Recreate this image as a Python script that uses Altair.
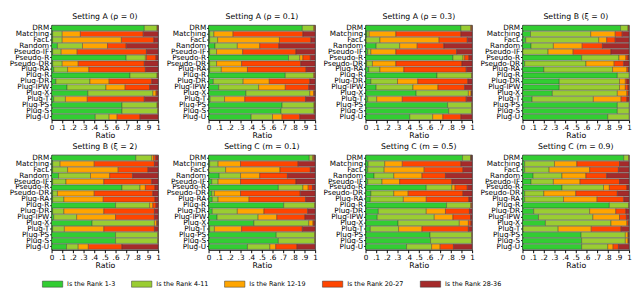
import altair as alt
import pandas as pd

methods = ["DRM", "Matching", "FacL", "Random", "Pseudo-IF", "Pseudo-R", "Pseudo-DR",
           "Plug-RA", "Plug-R", "Plug-DR", "Plug-IPW", "Plug-X", "Plug-T",
           "Plug-PS", "Plug-S", "Plug-U"]
ranks = ["Is the Rank 1-3", "Is the Rank 4-11", "Is the Rank 12-19",
         "Is the Rank 20-27", "Is the Rank 28-36"]
colors = ["#32cd32", "#9acd32", "#ffa500", "#ff4500", "#a52a2a"]
titles = ["Setting A (ρ = 0)", "Setting A (ρ = 0.1)", "Setting A (ρ = 0.3)",
          "Setting B (ξ = 0)", "Setting B (ξ = 2)", "Setting C (m = 0.1)",
          "Setting C (m = 0.5)", "Setting C (m = 0.9)"]
tick_values = [0, 0.1, 0.2, 0.3, 0.4, 0.5, 0.6, 0.7, 0.8, 0.9, 1.0]

# shares of each rank group per method (rows follow `methods`, columns follow `ranks`)
setting_a_rho0 = [
    [0.87, 0.12, 0.005, 0.005, 0.0],
    [0.01, 0.09, 0.17, 0.59, 0.14],
    [0.01, 0.09, 0.555, 0.305, 0.04],
    [0.055, 0.235, 0.235, 0.175, 0.30],
    [0.01, 0.08, 0.15, 0.65, 0.11],
    [0.70, 0.18, 0.01, 0.09, 0.02],
    [0.01, 0.09, 0.15, 0.62, 0.13],
    [0.02, 0.13, 0.20, 0.53, 0.12],
    [0.735, 0.255, 0.005, 0.005, 0.0],
    [0.04, 0.32, 0.18, 0.40, 0.06],
    [0.145, 0.365, 0.18, 0.23, 0.08],
    [0.34, 0.61, 0.03, 0.01, 0.01],
    [0.02, 0.11, 0.205, 0.535, 0.13],
    [0.66, 0.33, 0.005, 0.005, 0.0],
    [0.66, 0.335, 0.005, 0.0, 0.0],
    [0.41, 0.13, 0.075, 0.215, 0.17],
]
setting_a_rho01 = [
    [0.88, 0.105, 0.01, 0.005, 0.0],
    [0.01, 0.04, 0.18, 0.655, 0.115],
    [0.01, 0.075, 0.58, 0.295, 0.04],
    [0.06, 0.21, 0.21, 0.18, 0.34],
    [0.01, 0.065, 0.245, 0.50, 0.18],
    [0.75, 0.105, 0.03, 0.07, 0.045],
    [0.01, 0.065, 0.235, 0.555, 0.135],
    [0.01, 0.11, 0.245, 0.55, 0.085],
    [0.72, 0.265, 0.01, 0.005, 0.0],
    [0.045, 0.28, 0.245, 0.38, 0.05],
    [0.095, 0.375, 0.25, 0.22, 0.06],
    [0.35, 0.60, 0.035, 0.01, 0.005],
    [0.015, 0.135, 0.19, 0.57, 0.09],
    [0.69, 0.30, 0.005, 0.005, 0.0],
    [0.68, 0.31, 0.005, 0.005, 0.0],
    [0.40, 0.20, 0.09, 0.165, 0.145],
]
setting_a_rho03 = [
    [0.895, 0.09, 0.01, 0.005, 0.0],
    [0.012, 0.023, 0.25, 0.61, 0.105],
    [0.005, 0.13, 0.555, 0.265, 0.045],
    [0.10, 0.22, 0.165, 0.25, 0.265],
    [0.02, 0.03, 0.235, 0.57, 0.145],
    [0.82, 0.095, 0.015, 0.04, 0.03],
    [0.01, 0.055, 0.22, 0.62, 0.095],
    [0.03, 0.105, 0.225, 0.585, 0.055],
    [0.67, 0.325, 0.005, 0.0, 0.0],
    [0.05, 0.25, 0.19, 0.47, 0.04],
    [0.10, 0.345, 0.235, 0.25, 0.07],
    [0.475, 0.49, 0.025, 0.005, 0.005],
    [0.02, 0.085, 0.24, 0.60, 0.055],
    [0.77, 0.225, 0.005, 0.0, 0.0],
    [0.78, 0.215, 0.005, 0.0, 0.0],
    [0.415, 0.215, 0.095, 0.17, 0.105],
]
setting_b_xi0 = [
    [0.92, 0.07, 0.005, 0.005, 0.0],
    [0.075, 0.565, 0.23, 0.065, 0.065],
    [0.03, 0.685, 0.075, 0.08, 0.13],
    [0.08, 0.21, 0.27, 0.19, 0.25],
    [0.003, 0.237, 0.235, 0.355, 0.17],
    [0.555, 0.35, 0.065, 0.02, 0.01],
    [0.02, 0.575, 0.265, 0.09, 0.05],
    [0.20, 0.645, 0.135, 0.015, 0.005],
    [0.89, 0.11, 0.0, 0.0, 0.0],
    [0.345, 0.565, 0.055, 0.015, 0.02],
    [0.345, 0.565, 0.055, 0.025, 0.01],
    [0.28, 0.61, 0.09, 0.015, 0.005],
    [0.09, 0.575, 0.26, 0.055, 0.02],
    [0.89, 0.11, 0.0, 0.0, 0.0],
    [0.89, 0.11, 0.0, 0.0, 0.0],
    [0.80, 0.20, 0.0, 0.0, 0.0],
]
setting_b_xi2 = [
    [0.79, 0.15, 0.017, 0.02, 0.023],
    [0.01, 0.07, 0.32, 0.565, 0.035],
    [0.01, 0.14, 0.475, 0.28, 0.095],
    [0.065, 0.30, 0.18, 0.215, 0.24],
    [0.01, 0.125, 0.355, 0.45, 0.06],
    [0.66, 0.17, 0.05, 0.09, 0.03],
    [0.01, 0.045, 0.345, 0.55, 0.05],
    [0.01, 0.105, 0.37, 0.485, 0.03],
    [0.60, 0.32, 0.03, 0.03, 0.02],
    [0.01, 0.105, 0.375, 0.475, 0.035],
    [0.02, 0.215, 0.365, 0.365, 0.035],
    [0.38, 0.585, 0.02, 0.01, 0.005],
    [0.01, 0.11, 0.37, 0.475, 0.035],
    [0.60, 0.395, 0.005, 0.0, 0.0],
    [0.60, 0.395, 0.005, 0.0, 0.0],
    [0.14, 0.11, 0.095, 0.315, 0.34],
]
setting_c_m01 = [
    [0.945, 0.03, 0.01, 0.01, 0.005],
    [0.01, 0.08, 0.21, 0.54, 0.16],
    [0.003, 0.157, 0.51, 0.285, 0.045],
    [0.10, 0.20, 0.18, 0.26, 0.26],
    [0.03, 0.06, 0.21, 0.52, 0.18],
    [0.655, 0.23, 0.05, 0.04, 0.025],
    [0.03, 0.025, 0.245, 0.56, 0.14],
    [0.035, 0.055, 0.29, 0.53, 0.09],
    [0.705, 0.29, 0.005, 0.0, 0.0],
    [0.035, 0.235, 0.25, 0.41, 0.07],
    [0.08, 0.385, 0.175, 0.265, 0.095],
    [0.425, 0.515, 0.04, 0.01, 0.01],
    [0.01, 0.045, 0.255, 0.57, 0.12],
    [0.635, 0.36, 0.005, 0.0, 0.0],
    [0.655, 0.34, 0.005, 0.0, 0.0],
    [0.365, 0.21, 0.055, 0.20, 0.17],
]
setting_c_m05 = [
    [0.91, 0.075, 0.005, 0.005, 0.005],
    [0.025, 0.155, 0.165, 0.55, 0.105],
    [0.02, 0.155, 0.375, 0.365, 0.085],
    [0.08, 0.185, 0.265, 0.22, 0.25],
    [0.02, 0.135, 0.165, 0.49, 0.19],
    [0.57, 0.24, 0.03, 0.115, 0.045],
    [0.05, 0.215, 0.135, 0.515, 0.085],
    [0.045, 0.31, 0.215, 0.40, 0.03],
    [0.76, 0.225, 0.01, 0.005, 0.0],
    [0.12, 0.45, 0.18, 0.225, 0.025],
    [0.11, 0.535, 0.175, 0.165, 0.015],
    [0.305, 0.575, 0.085, 0.025, 0.01],
    [0.045, 0.265, 0.22, 0.435, 0.035],
    [0.605, 0.39, 0.005, 0.0, 0.0],
    [0.61, 0.385, 0.005, 0.0, 0.0],
    [0.385, 0.235, 0.08, 0.125, 0.175],
]
setting_c_m09 = [
    [0.95, 0.045, 0.005, 0.0, 0.0],
    [0.02, 0.28, 0.21, 0.40, 0.09],
    [0.02, 0.23, 0.38, 0.27, 0.10],
    [0.10, 0.27, 0.225, 0.195, 0.21],
    [0.08, 0.21, 0.25, 0.37, 0.09],
    [0.37, 0.39, 0.055, 0.165, 0.02],
    [0.02, 0.18, 0.30, 0.39, 0.11],
    [0.02, 0.365, 0.315, 0.25, 0.05],
    [0.815, 0.18, 0.005, 0.0, 0.0],
    [0.105, 0.525, 0.245, 0.095, 0.03],
    [0.15, 0.51, 0.25, 0.065, 0.025],
    [0.215, 0.615, 0.15, 0.015, 0.005],
    [0.005, 0.33, 0.31, 0.28, 0.075],
    [0.55, 0.415, 0.025, 0.005, 0.005],
    [0.555, 0.41, 0.025, 0.005, 0.005],
    [0.555, 0.245, 0.05, 0.05, 0.10],
]

all_settings = [setting_a_rho0, setting_a_rho01, setting_a_rho03, setting_b_xi0,
                setting_b_xi2, setting_c_m01, setting_c_m05, setting_c_m09]

rows = []
for title, table in zip(titles, all_settings):
    for method, shares in zip(methods, table):
        for k, (rank, v) in enumerate(zip(ranks, shares)):
            if v > 0:
                rows.append({"setting": title, "method": method, "rank": rank,
                             "rank_idx": k, "value": v})
df = pd.DataFrame(rows)

FONT = "DejaVu Sans"
label_expr = "datum.value == 0 ? '0' : (datum.value >= 1 ? '1' : '.' + round(datum.value * 10))"


def panel(title):
    return alt.Chart(df).transform_filter(
        alt.datum.setting == title
    ).mark_bar(stroke="#333333", strokeWidth=0.4).encode(
        y=alt.Y("method:N", sort=methods,
                scale=alt.Scale(paddingInner=0.12, paddingOuter=0.08),
                axis=alt.Axis(title=None, labelFontSize=7.5, labelFont=FONT,
                              labelColor="black", tickSize=2, tickColor="black",
                              labelPadding=1, domainColor="black", domainWidth=0.8)),
        x=alt.X("value:Q", stack="normalize",
                scale=alt.Scale(domain=[0, 1], nice=False),
                axis=alt.Axis(title="Ratio", values=tick_values, labelExpr=label_expr,
                              labelFontSize=7.5, labelFont=FONT, labelColor="black",
                              titleFontSize=8, titleFont=FONT, titleFontWeight="normal",
                              titleColor="black", titlePadding=1, tickSize=3,
                              tickColor="black", labelPadding=1, grid=False,
                              domainColor="black", domainWidth=0.8, labelFlush=False)),
        color=alt.Color("rank:N", scale=alt.Scale(domain=ranks, range=colors),
                        legend=alt.Legend(title=None, orient="none", legendX=-10, legendY=256,
                                          direction="horizontal", columns=5, padding=0,
                                          symbolType="M-1,-0.3H1V0.3H-1Z", symbolSize=441,
                                          symbolStrokeColor="#333333", symbolStrokeWidth=0.5,
                                          symbolOpacity=1, labelFontSize=6.6, labelFont=FONT,
                                          labelColor="black", labelOffset=4, columnPadding=15)),
        order=alt.Order("rank_idx:Q"),
    ).properties(
        width=110, height=98,
        title=alt.TitleParams(title, fontSize=8, font=FONT, fontWeight="normal",
                              color="black", offset=3),
    )


chart = alt.concat(*[panel(t) for t in titles], columns=4,
                   spacing={"row": 2, "column": 4}).properties(
    padding={"left": 0, "top": 0, "right": 0, "bottom": 0}
).configure_view(stroke="#444444", strokeWidth=0.8)

chart.save("out.html", embed_options={"renderer": "svg", "actions": False})
